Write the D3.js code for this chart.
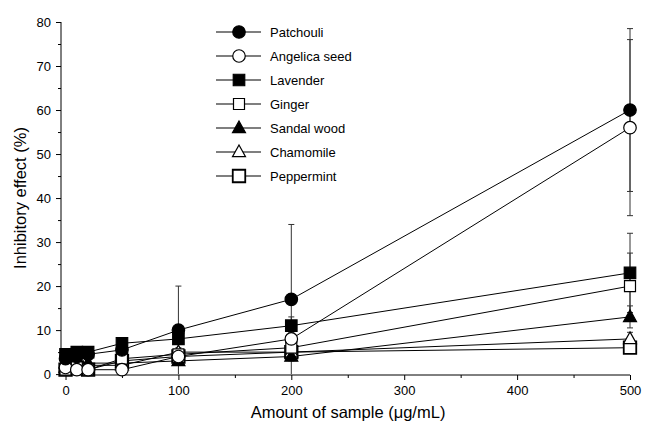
<!DOCTYPE html>
<html>
<head>
<meta charset="utf-8">
<script src="https://cdn.jsdelivr.net/npm/d3@7"></script>
<style>
  html, body { margin: 0; padding: 0; background: #fff; }
  svg { display: block; font-family: "Liberation Sans", Arial, sans-serif; }
</style>
</head>
<body>
<svg id="chart" width="647" height="428"></svg>
<script>
// Sample amounts (µg/mL)
const doses = [0, 10, 20, 50, 100, 200, 500];

// Inhibitory effect (%) per oil
const patchouli   = [3.5, 4, 4.5, 5.5, 10, 17, 60];
const angelica    = [1.5, 1, 1, 1, 4, 8, 56];
const lavender    = [4.5, 5, 5, 7, 8, 11, 23];
const ginger      = [1, 1.5, 1, 3.5, 4.5, 6, 20];
const sandalwood  = [2.5, 3, 2.5, 2.5, 3, 4, 13];
const chamomile   = [1.5, 2, 2, 2, 5, 5, 8];
const peppermint  = [1, 1.5, 1, 3, 4, 5, 6];

// Standard deviations
const patchouliErr  = [0.5, 0.5, 0.5, 1, 10, 17, 18.5];
const angelicaErr   = [0.5, 0.5, 0.5, 0.5, 1, 1.5, 20];
const lavenderErr   = [0.5, 0.5, 0.5, 1, 1, 2, 9];
const gingerErr     = [0.5, 0.5, 0.5, 0.5, 1, 1, 7.5];
const sandalwoodErr = [0.5, 0.5, 0.5, 0.5, 1, 1, 2.5];
const chamomileErr  = [0.5, 0.5, 0.5, 0.5, 1, 1, 1.5];
const peppermintErr = [0.5, 0.5, 0.5, 0.5, 1, 1, 1];

const seriesNames = ["Patchouli", "Angelica seed", "Lavender", "Ginger", "Sandal wood", "Chamomile", "Peppermint"];
const xTicks = [0, 100, 200, 300, 400, 500];
const yTicks = [0, 10, 20, 30, 40, 50, 60, 70, 80];

const series = [
  { name: seriesNames[0], values: patchouli,  err: patchouliErr,  shape: "circle",   fill: "#000", size: 12.5 },
  { name: seriesNames[1], values: angelica,   err: angelicaErr,   shape: "circle",   fill: "#fff", size: 12.5 },
  { name: seriesNames[2], values: lavender,   err: lavenderErr,   shape: "square",   fill: "#000", size: 11.5 },
  { name: seriesNames[3], values: ginger,     err: gingerErr,     shape: "square",   fill: "#fff", size: 11 },
  { name: seriesNames[4], values: sandalwood, err: sandalwoodErr, shape: "triangle", fill: "#000", size: 13 },
  { name: seriesNames[5], values: chamomile,  err: chamomileErr,  shape: "triangle", fill: "#fff", size: 13 },
  { name: seriesNames[6], values: peppermint, err: peppermintErr, shape: "square",   fill: "#fff", size: 12.5, sw: 1.8 }
];

const svg = d3.select("#chart");

const x = d3.scaleLinear().domain([-4, 500]).range([61, 630]);
const y = d3.scaleLinear().domain([-0.2, 80]).range([375, 22]);

// Axes with major and minor ticks
const xAxis = svg.append("g").attr("transform", `translate(0,${y.range()[0]})`);
xAxis.call(d3.axisBottom(x).tickValues(xTicks).tickSize(5).tickSizeOuter(0).tickPadding(6));
xAxis.append("g").call(d3.axisBottom(x).tickValues([50, 150, 250, 350, 450]).tickSize(3).tickFormat(""))
  .select(".domain").remove();
xAxis.select(".domain").attr("d", `M${x.range()[0]},0H${x.range()[1]}`);

const yAxis = svg.append("g").attr("transform", `translate(${x.range()[0]},0)`);
yAxis.call(d3.axisLeft(y).tickValues(yTicks).tickSize(5).tickSizeOuter(0).tickPadding(5));
yAxis.append("g").call(d3.axisLeft(y).tickValues([5, 15, 25, 35, 45, 55, 65, 75]).tickSize(3).tickFormat(""))
  .select(".domain").remove();
yAxis.select(".domain").attr("d", `M0,${y(80)}V${y.range()[0]}`);

svg.selectAll(".tick text").attr("font-size", 13).attr("fill", "#000")
  .attr("font-family", "'Liberation Sans', Arial, sans-serif");
svg.selectAll(".domain, .tick line").attr("stroke", "#000").attr("stroke-width", 1);

// Axis titles
svg.append("text").attr("x", 348).attr("y", 418).attr("text-anchor", "middle")
  .attr("font-size", 16.5).text("Amount of sample (μg/mL)");
svg.append("text").attr("transform", "translate(26,198) rotate(-90)").attr("text-anchor", "middle")
  .attr("font-size", 16.5).text("Inhibitory effect (%)");

function markerPath(shape, size) {
  const h = size / 2;
  if (shape === "circle") return d3.symbol(d3.symbolCircle, Math.PI * h * h)();
  if (shape === "square") return `M${-h},${-h}H${h}V${h}H${-h}Z`;
  const th = size * 0.9;
  return `M0,${-th * 0.6}L${h},${th * 0.4}L${-h},${th * 0.4}Z`;
}

const plot = svg.append("g");

// Error bars
series.forEach(s => {
  const g = plot.append("g").attr("stroke", "#333").attr("stroke-width", 1);
  doses.forEach((d, i) => {
    const e = s.err[i];
    const top = y(s.values[i] + e), bot = y(Math.max(0, s.values[i] - e));
    const cx = x(d);
    g.append("line").attr("x1", cx).attr("x2", cx).attr("y1", top).attr("y2", bot);
    g.append("line").attr("x1", cx - 3).attr("x2", cx + 3).attr("y1", top).attr("y2", top);
    if (s.values[i] - e > 0)
      g.append("line").attr("x1", cx - 3).attr("x2", cx + 3).attr("y1", bot).attr("y2", bot);
  });
});

// Connecting lines
const line = d3.line().x((d, i) => x(doses[i])).y(d => y(d));
series.forEach(s => {
  plot.append("path").datum(s.values).attr("d", line)
    .attr("fill", "none").attr("stroke", "#000").attr("stroke-width", 1);
});

// Markers
series.slice().reverse().forEach(s => {
  plot.append("g").selectAll("path").data(s.values).join("path")
    .attr("transform", (d, i) => `translate(${x(doses[i])},${y(d)})`)
    .attr("d", markerPath(s.shape, s.size))
    .attr("fill", s.fill).attr("stroke", "#000").attr("stroke-width", s.sw || 1.2);
});

// Legend
const legend = svg.append("g");
series.forEach((s, i) => {
  const g = legend.append("g").attr("transform", `translate(0,${32 + i * 24})`);
  g.append("line").attr("x1", 216).attr("x2", 261).attr("y1", 0).attr("y2", 0)
    .attr("stroke", "#000").attr("stroke-width", 1.2);
  g.append("path").attr("transform", "translate(239,0)").attr("d", markerPath(s.shape, s.size))
    .attr("fill", s.fill).attr("stroke", "#000").attr("stroke-width", s.sw || 1.2);
  g.append("text").attr("x", 270).attr("y", 4.5).attr("font-size", 13).text(s.name);
});
</script>
</body>
</html>
